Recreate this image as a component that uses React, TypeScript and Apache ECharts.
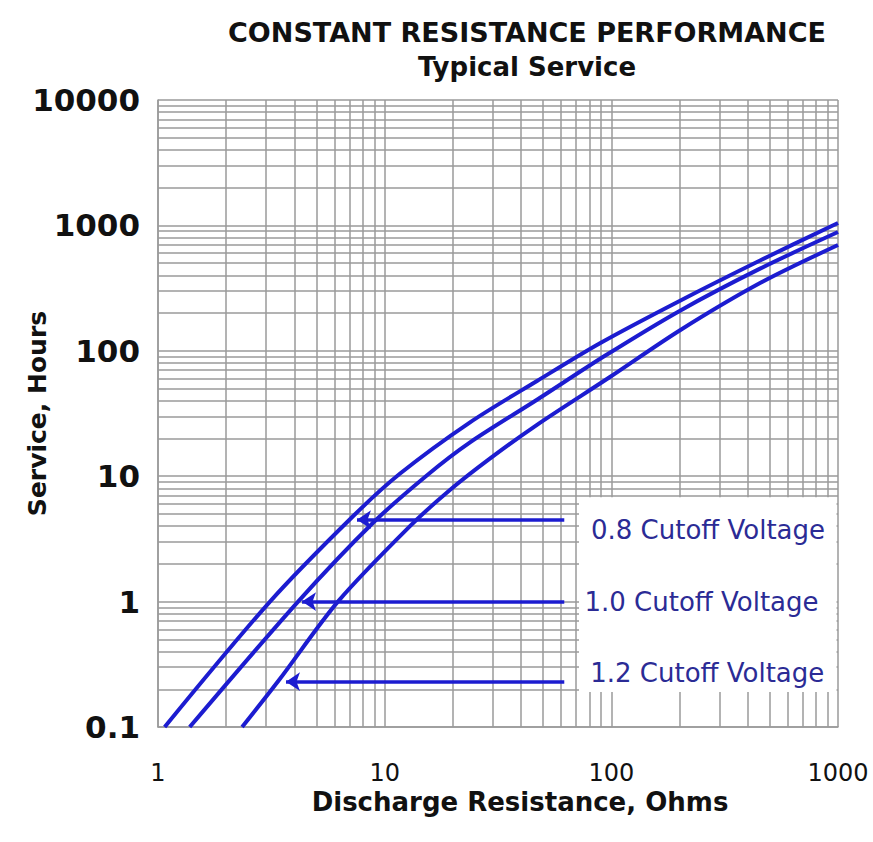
import React, { useEffect, useRef } from "react";
import * as echarts from "echarts";

// Tick labels
const xTickLabels = ["1", "10", "100", "1000"];
const yTickLabels = ["0.1", "1", "10", "100", "1000", "10000"];

// 0.8 V cutoff curve (resistance in ohms, service in hours)
const resistance08 = [1.07, 3.12, 7.25, 11.7, 23.8, 47.0, 89.1, 201, 453, 1000];
const hours08 = [0.1, 1.0, 4.79, 10.5, 26.9, 57.5, 115, 251, 525, 1045];

// 1.0 V cutoff curve
const resistance10 = [1.38, 4.15, 8.91, 15.2, 23.8, 47.0, 93.7, 201, 453, 1000];
const hours10 = [0.1, 1.0, 4.27, 10.0, 18.6, 40.7, 91.2, 209, 452, 885];

// 1.2 V cutoff curve
const resistance12 = [2.35, 3.42, 6.22, 12.9, 19.4, 29.1, 47.0, 98.6, 201, 453, 1000];
const hours12 = [0.1, 0.237, 1.0, 3.98, 7.76, 13.8, 25.7, 61.8, 146, 347, 698];

// Annotations: label text, arrow start / tip resistance, arrow hours, label position
const labelNames = ["0.8 Cutoff Voltage", "1.0 Cutoff Voltage", "1.2 Cutoff Voltage"];
const arrowStartR = [62, 62, 62];
const arrowTipR = [7.55, 4.32, 3.67];
const arrowHours = [4.5, 1.0, 0.23];
const labelR = [267, 250, 265];
const labelHours = [3.7, 1.0, 0.27];

// Label box extent
const boxR = [72, 985];
const boxHours = [6.8, 0.19];

const FONT = "DejaVu Sans";
const CURVE = "#1c1cd0";
const LABEL = "#2b2b95";

function zip(a: number[], b: number[]) {
  return a.map((v, i) => [v, b[i]]);
}

function decorate(i: number) {
  return {
    markLine: {
      silent: true,
      z: 4,
      symbol: ["none", "arrow"],
      symbolSize: 14,
      lineStyle: { color: CURVE, width: 3.5, type: "solid" },
      itemStyle: { color: CURVE },
      label: { show: false },
      data: [
        [
          { coord: [arrowStartR[i], arrowHours[i]] },
          { coord: [arrowTipR[i], arrowHours[i]] },
        ],
      ],
    },
    markPoint: {
      silent: true,
      z: 5,
      symbol: "circle",
      symbolSize: 1,
      itemStyle: { color: "rgba(0,0,0,0)" },
      label: {
        show: true,
        position: "inside",
        formatter: labelNames[i],
        color: LABEL,
        fontSize: 26,
        fontFamily: FONT,
      },
      data: [{ coord: [labelR[i], labelHours[i]] }],
    },
  };
}

function curve(name: string, r: number[], h: number[]) {
  return {
    name,
    type: "line",
    z: 3,
    smooth: 0.3,
    showSymbol: false,
    lineStyle: { color: CURVE, width: 4 },
    data: zip(r, h),
  };
}

export default function App() {
  const ref = useRef<HTMLDivElement>(null);
  useEffect(() => {
    document.body.style.margin = "0";
    const chart = echarts.init(ref.current!, undefined, { renderer: "svg" });
    const gridLine = { color: "#9a9a9a", width: 1.5 };
    chart.setOption({
      animation: false,
      backgroundColor: "#ffffff",
      grid: { left: 158, right: 35, top: 100, bottom: 115, containLabel: false, outerBoundsMode: "none" },
      graphic: [
        {
          type: "text",
          x: 527,
          y: 32,
          style: {
            text: "CONSTANT RESISTANCE PERFORMANCE",
            fill: "#111",
            font: `bold 27px '${FONT}'`,
            textAlign: "center",
            textVerticalAlign: "middle",
          },
        },
        {
          type: "text",
          x: 527,
          y: 67,
          style: {
            text: "Typical Service",
            fill: "#111",
            font: `bold 26px '${FONT}'`,
            textAlign: "center",
            textVerticalAlign: "middle",
          },
        },
      ],
      xAxis: {
        type: "log",
        logBase: 10,
        min: 1,
        max: 1000,
        name: "Discharge Resistance, Ohms",
        nameLocation: "middle",
        nameGap: 62,
        nameMoveOverlap: false,
        nameTextStyle: { fontFamily: FONT, fontWeight: "bold", fontSize: 26, color: "#111", padding: [0, 0, 0, 44] },
        axisLine: { show: true, lineStyle: { color: "#9a9a9a", width: 1.5 } },
        axisTick: { show: false },
        axisLabel: {
          fontFamily: FONT,
          fontSize: 24,
          color: "#111",
          margin: 34,
          formatter: (v: number) => xTickLabels[Math.round(Math.log10(v))] ?? "",
        },
        splitLine: { show: true, lineStyle: gridLine },
        minorTick: { show: false, splitNumber: 9 },
        minorSplitLine: { show: true, lineStyle: gridLine },
      },
      yAxis: {
        type: "log",
        logBase: 10,
        min: 0.1,
        max: 10000,
        name: "Service, Hours",
        nameLocation: "middle",
        nameGap: 108,
        nameMoveOverlap: false,
        nameTextStyle: { fontFamily: FONT, fontWeight: "bold", fontSize: 25, color: "#111" },
        axisLine: { show: true, lineStyle: { color: "#9a9a9a", width: 1.5 } },
        axisTick: { show: false },
        axisLabel: {
          fontFamily: FONT,
          fontSize: 31,
          fontWeight: "bold",
          color: "#111",
          margin: 18,
          formatter: (v: number) => yTickLabels[Math.round(Math.log10(v)) + 1] ?? "",
        },
        splitLine: { show: true, lineStyle: gridLine },
        minorTick: { show: false, splitNumber: 9 },
        minorSplitLine: { show: true, lineStyle: gridLine },
      },
      series: [
        {
          ...curve("0.8 Cutoff Voltage", resistance08, hours08),
          markArea: {
            silent: true,
            z: 2,
            itemStyle: { color: "#ffffff" },
            data: [[{ coord: [boxR[0], boxHours[0]] }, { coord: [boxR[1], boxHours[1]] }]],
          },
          ...decorate(0),
        },
        { ...curve("1.0 Cutoff Voltage", resistance10, hours10), ...decorate(1) },
        { ...curve("1.2 Cutoff Voltage", resistance12, hours12), ...decorate(2) },
      ],
    });
    return () => chart.dispose();
  }, []);
  return <div ref={ref} style={{ width: 873, height: 842 }} />;
}
